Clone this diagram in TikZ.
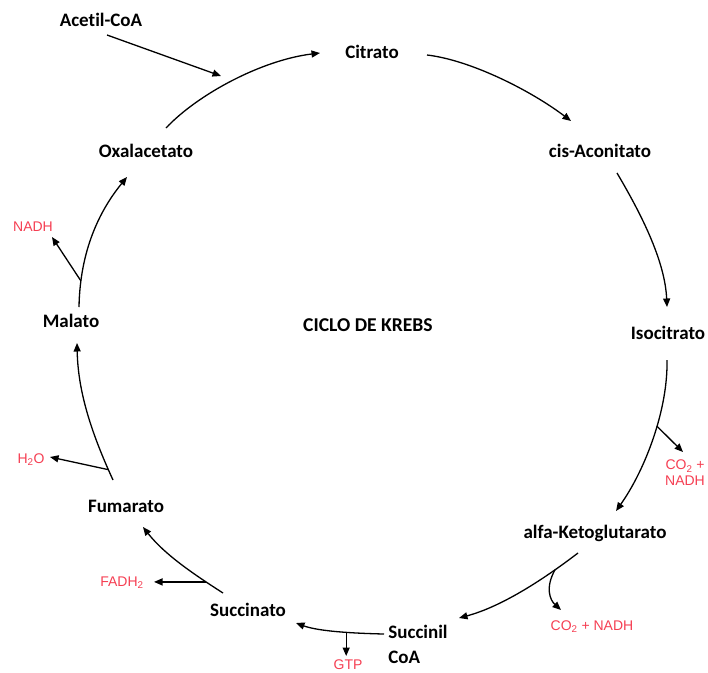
\documentclass[tikz,border=0pt]{standalone}
\usepackage{fontspec}
\setmainfont{Carlito}[Ligatures={NoCommon}]
\newfontfamily\arialf{Liberation Sans}
\usetikzlibrary{arrows.meta,calc}
\definecolor{byprod}{RGB}{245,62,82}
\tikzset{
  metab/.style={font=\bfseries\fontsize{19}{25}\selectfont, inner sep=1pt},
  prod/.style={font=\arialf\fontsize{14}{16}\selectfont, text=byprod, inner sep=1pt, align=center},
  flow/.style={line width=1.3pt, -{Triangle[length=8.5pt,width=7pt]}},
}
\begin{document}
\begin{tikzpicture}[x=1pt,y=-1pt]
\useasboundingbox (0,0) rectangle (708,672);

% metabolites of the cycle
\node[metab] (acetil) at (101,20) {Acetil-CoA};
\node[metab] (cit)    at (372,52) {Citrato};
\node[metab] (cisac)  at (600,151) {cis-Aconitato};
\node[metab] (isoc)   at (668,333) {Isocitrato};
\node[metab] (akg)    at (595,533) {alfa-Ketoglutarato};
\node[metab, align=left] (succoa) at (418,644) {Succinil\\CoA};
\node[metab] (succ)   at (248,610) {Succinato};
\node[metab] (fum)    at (126,506) {Fumarato};
\node[metab] (mal)    at (71,321) {Malato};
\node[metab] (oxal)   at (146,151) {Oxalacetato};
\node[metab, font=\bfseries\fontsize{19.6}{25}\selectfont] (ciclo) at (368,325) {CICLO DE KREBS};

% by-products
\node[prod] (nadh)  at (33,227) {NADH};
\node[prod] (h2o)   at (31,460) {H\textsubscript{2}O};
\node[prod] (co2a)  at (685,473) {CO\textsubscript{2} +\\NADH};
\node[prod] (fadh)  at (122,583) {FADH\textsubscript{2}};
\node[prod] (co2b)  at (592,627) {CO\textsubscript{2} + NADH};
\node[prod] (gtp)   at (348,665) {GTP};

% acetyl-CoA entering the cycle
\draw[flow] ($(acetil)+(6,15)$) -- ($(cit)+(-151,24)$);

% steps of the cycle
\draw[flow] ($(oxal)+(20,-23)$) .. controls +(32,-34) and +(-58,7) .. ($(cit)+(-52,1)$);
\draw[flow] ($(cit)+(55,3)$) .. controls +(43,5) and +(-41,-31) .. ($(cisac)+(-29,-30)$);
\draw[flow] ($(cisac)+(17,22)$) .. controls +(23,39) and +(-2,-47) .. ($(isoc)+(-1,-26)$);
\draw[flow] ($(isoc)+(-1,27)$) .. controls +(1,50) and +(29,-41) .. coordinate[pos=0.42] (b1) ($(akg)+(21,-22)$);
\draw[flow] ($(akg)+(-17,20)$) .. controls +(-38,29) and +(41,-11) .. coordinate[pos=0.2] (b2) ($(succoa)+(41,-26)$);
\draw[flow] ($(succoa)+(-34,-10)$) .. controls +(-44,-1) and +(19,7) .. coordinate[pos=0.33] (b3) ($(succ)+(48,13)$);
\draw[flow] ($(succ)+(-25,-17)$) .. controls +(-28,-18) and +(22,28) .. coordinate[pos=0.2] (b4) ($(fum)+(17,21)$);
\draw[flow] ($(fum)+(-13,-26)$) .. controls +(-23,-50) and +(1,47) .. coordinate[pos=0.07] (b5) ($(mal)+(6,22)$);
\draw[flow] ($(mal)+(8,-14)$) .. controls +(1,-57) and +(-27,33) .. coordinate[pos=0.16] (b6) ($(oxal)+(-19,26)$);

% branches releasing by-products
\draw[flow] (b1) -- ($(co2a)+(-2,-21)$);
\draw[flow] (b2) .. controls +(-10,18) and +(-11,-10) .. ($(co2b)+(-31,-17)$);
\draw[flow] (b3) -- (b3 |- {$(gtp)+(0,-9)$});
\draw[flow] (b4) -- (b4 -| {$(fadh)+(32,0)$});
\draw[flow] (b5) -- ($(h2o)+(19,-3)$);
\draw[flow] (b6) -- ($(nadh)+(19,10)$);
\end{tikzpicture}
\end{document}
